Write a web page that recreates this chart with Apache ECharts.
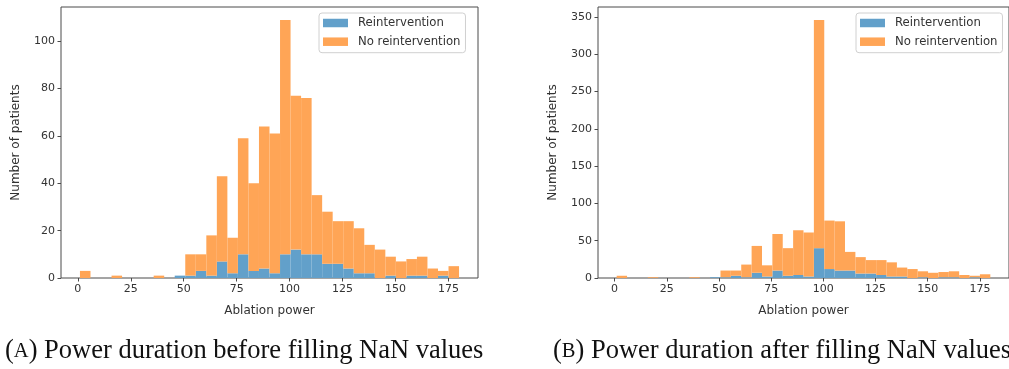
<!DOCTYPE html>
<html>
<head>
<meta charset="utf-8">
<script src="https://cdn.jsdelivr.net/npm/echarts@6/dist/echarts.min.js"></script>
<style>
  html, body { margin: 0; padding: 0; background: #fff; }
  #chart { width: 1009px; height: 369px; }
</style>
</head>
<body>
<div id="chart"></div>
<script>
// Histogram bins: 36 equal bins spanning the observed ablation power range
const binStart = 1;
const binEnd = 180;
const binCount = 36;

// Panel A: counts per bin before NaN values were filled
const reinterventionA = [0, 0, 0, 0, 0, 0, 0, 0, 0, 1,
                         1, 3, 1, 7, 2, 10, 3, 4, 2, 10,
                         12, 10, 10, 6, 6, 4, 2, 2, 0, 1,
                         0, 1, 1, 0, 1, 0];
const noReinterventionA = [3, 0, 0, 1, 0, 0, 0, 1, 0, 0,
                           9, 7, 17, 36, 15, 49, 37, 60, 59, 99,
                           65, 66, 25, 22, 18, 20, 19, 12, 12, 8,
                           7, 7, 8, 4, 2, 5];

// Panel B: counts per bin after NaN values were filled
const reinterventionB = [0, 0, 0, 0, 0, 0, 0, 0, 0, 1,
                         1, 3, 1, 7, 2, 10, 3, 4, 2, 40,
                         12, 10, 10, 6, 6, 4, 2, 2, 0, 1,
                         0, 1, 1, 0, 1, 0];
const noReinterventionB = [3, 0, 0, 1, 0, 0, 0, 1, 0, 0,
                           9, 7, 17, 36, 15, 49, 37, 60, 59, 306,
                           65, 66, 25, 22, 18, 20, 19, 12, 12, 8,
                           7, 7, 8, 4, 2, 5];

// Tick labels
const xTicks = [0, 25, 50, 75, 100, 125, 150, 175];
const yTicksA = [0, 20, 40, 60, 80, 100];
const yTicksB = [0, 50, 100, 150, 200, 250, 300, 350];

const seriesNames = ['Reintervention', 'No reintervention'];
const captionA = 'Power duration before filling NaN values';
const captionB = 'Power duration after filling NaN values';

const BLUE = 'rgb(98,160,202)';
const ORANGE = 'rgb(255,165,86)';
const FONT = 'DejaVu Sans';
const TEXT = '#333';
const SPINE = '#4a4a4a';

const binWidth = (binEnd - binStart) / binCount;

// rows of [left edge, right edge, bottom, top]
function stackRows(lower, upper, isUpper) {
  return lower.map(function (v, i) {
    const x0 = binStart + i * binWidth;
    const x1 = x0 + binWidth;
    return isUpper ? [x0, x1, v, v + upper[i]] : [x0, x1, 0, v];
  });
}

function renderBin(params, api) {
  const p0 = api.coord([api.value(0), api.value(2)]);
  const p1 = api.coord([api.value(1), api.value(3)]);
  if (api.value(3) - api.value(2) <= 0) return null;
  return {
    type: 'rect',
    shape: { x: p0[0], y: p1[1], width: p1[0] - p0[0], height: p0[1] - p1[1] },
    style: { fill: api.visual('color') }
  };
}

function histSeries(name, color, idx, rows) {
  return {
    type: 'custom',
    name: name,
    xAxisIndex: idx,
    yAxisIndex: idx,
    color: color,
    itemStyle: { color: color },
    renderItem: renderBin,
    encode: { x: [0, 1], y: [2, 3] },
    data: rows,
    silent: true,
    animation: false
  };
}

const xMin = binStart - 0.05 * (binEnd - binStart);
const xMax = binEnd + 0.05 * (binEnd - binStart);

function xAxisFor(idx) {
  return {
    type: 'value', gridIndex: idx, min: xMin, max: xMax,
    name: 'Ablation power', nameLocation: 'middle', nameGap: 27, nameMoveOverlap: false,
    nameTextStyle: { fontFamily: FONT, fontSize: 12, color: TEXT },
    axisLine: { show: false, onZero: false },
    axisTick: { show: true, length: 3.5, lineStyle: { color: SPINE, width: 1 }, customValues: xTicks },
    axisLabel: { fontFamily: FONT, fontSize: 11, color: TEXT, margin: 6, customValues: xTicks },
    splitLine: { show: false }
  };
}

function yAxisFor(idx, max, ticks, gap) {
  return {
    type: 'value', gridIndex: idx, min: 0, max: max,
    name: 'Number of patients', nameLocation: 'middle', nameGap: gap, nameMoveOverlap: false,
    nameTextStyle: { fontFamily: FONT, fontSize: 12, color: TEXT },
    axisLine: { show: false, onZero: false },
    axisTick: { show: true, length: 3.5, lineStyle: { color: SPINE, width: 1 }, customValues: ticks },
    axisLabel: { fontFamily: FONT, fontSize: 11, color: TEXT, margin: 6, customValues: ticks },
    splitLine: { show: false }
  };
}

function legendAt(left) {
  return {
    data: seriesNames,
    orient: 'vertical',
    left: left, top: 13,
    icon: 'rect',
    itemWidth: 25, itemHeight: 8.5, itemGap: 4.7,
    padding: [3, 5, 4, 4],
    backgroundColor: 'rgba(255,255,255,0.8)',
    borderColor: '#d0d0d0', borderWidth: 1, borderRadius: 3,
    selectedMode: false,
    textStyle: { fontFamily: FONT, fontSize: 11.7, color: TEXT, lineHeight: 14, padding: [0, 0, 0, 5] }
  };
}

function caption(letter, text, left) {
  const base = { fontFamily: 'Liberation Serif', fontWeight: 'normal', color: '#111' };
  return {
    text: '{p|(}{sc|' + letter + '}{p|) ' + text + '}',
    left: left, top: 338,
    padding: 0,
    textStyle: {
      fontWeight: 'normal',
      rich: {
        p: Object.assign({ fontSize: 26.5 }, base),
        sc: Object.assign({ fontSize: 20.5 }, base)
      }
    }
  };
}

const chart = echarts.init(document.getElementById('chart'), null, { renderer: 'canvas' });
chart.setOption({
  animation: false,
  backgroundColor: '#fff',
  title: [caption('A', captionA, 5), caption('B', captionB, 553)],
  legend: [legendAt(319), legendAt(856)],
  grid: [
    { left: 61, top: 7, width: 417, height: 271, show: true, borderColor: SPINE, borderWidth: 1, backgroundColor: 'transparent' },
    { left: 598, top: 7, width: 415, height: 271, show: true, borderColor: SPINE, borderWidth: 1, backgroundColor: 'transparent' }
  ],
  xAxis: [xAxisFor(0), xAxisFor(1)],
  yAxis: [yAxisFor(0, 114.45, yTicksA, 39), yAxisFor(1, 363.3, yTicksB, 39)],
  series: [
    histSeries(seriesNames[0], BLUE, 0, stackRows(reinterventionA, null, false)),
    histSeries(seriesNames[1], ORANGE, 0, stackRows(reinterventionA, noReinterventionA, true)),
    histSeries(seriesNames[0], BLUE, 1, stackRows(reinterventionB, null, false)),
    histSeries(seriesNames[1], ORANGE, 1, stackRows(reinterventionB, noReinterventionB, true))
  ]
});
</script>
</body>
</html>
